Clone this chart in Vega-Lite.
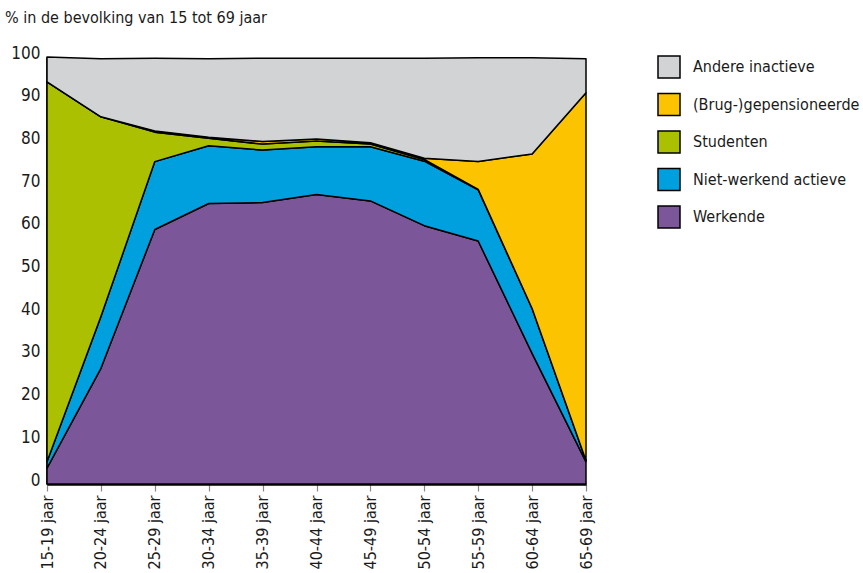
{
  "$schema": "https://vega.github.io/schema/vega-lite/v6.json",
  "width": 539,
  "height": 427,
  "autosize": "none",
  "padding": {"left": 47, "top": 57, "right": 277, "bottom": 89},
  "background": "white",
  "config": {
    "font": "Liberation Sans Narrow, DejaVu Sans Condensed, Roboto Condensed, DejaVu Sans, sans-serif",
    "view": {"stroke": null}
  },
  "title": {
    "text": "% in de bevolking van 15 tot 69 jaar",
    "anchor": "start",
    "frame": "group",
    "orient": "top",
    "dx": -42,
    "offset": 18,
    "fontSize": 16,
    "fontWeight": "normal",
    "color": "#1a1a1a"
  },
  "data": {
    "values": [
      {"age": "15-19 jaar", "group": "Werkende", "rank": 1, "value": 3.7},
      {"age": "15-19 jaar", "group": "Niet-werkend actieve", "rank": 2, "value": 1.5},
      {"age": "15-19 jaar", "group": "Studenten", "rank": 3, "value": 89.0},
      {"age": "15-19 jaar", "group": "(Brug-)gepensioneerde", "rank": 4, "value": 0},
      {"age": "15-19 jaar", "group": "Andere inactieve", "rank": 5, "value": 5.8},
      {"age": "20-24 jaar", "group": "Werkende", "rank": 1, "value": 27.1},
      {"age": "20-24 jaar", "group": "Niet-werkend actieve", "rank": 2, "value": 12.1},
      {"age": "20-24 jaar", "group": "Studenten", "rank": 3, "value": 46.8},
      {"age": "20-24 jaar", "group": "(Brug-)gepensioneerde", "rank": 4, "value": 0},
      {"age": "20-24 jaar", "group": "Andere inactieve", "rank": 5, "value": 13.6},
      {"age": "25-29 jaar", "group": "Werkende", "rank": 1, "value": 59.6},
      {"age": "25-29 jaar", "group": "Niet-werkend actieve", "rank": 2, "value": 15.9},
      {"age": "25-29 jaar", "group": "Studenten", "rank": 3, "value": 6.9},
      {"age": "25-29 jaar", "group": "(Brug-)gepensioneerde", "rank": 4, "value": 0.3},
      {"age": "25-29 jaar", "group": "Andere inactieve", "rank": 5, "value": 17.0},
      {"age": "30-34 jaar", "group": "Werkende", "rank": 1, "value": 65.7},
      {"age": "30-34 jaar", "group": "Niet-werkend actieve", "rank": 2, "value": 13.5},
      {"age": "30-34 jaar", "group": "Studenten", "rank": 3, "value": 1.8},
      {"age": "30-34 jaar", "group": "(Brug-)gepensioneerde", "rank": 4, "value": 0.2},
      {"age": "30-34 jaar", "group": "Andere inactieve", "rank": 5, "value": 18.4},
      {"age": "35-39 jaar", "group": "Werkende", "rank": 1, "value": 65.9},
      {"age": "35-39 jaar", "group": "Niet-werkend actieve", "rank": 2, "value": 12.3},
      {"age": "35-39 jaar", "group": "Studenten", "rank": 3, "value": 1.4},
      {"age": "35-39 jaar", "group": "(Brug-)gepensioneerde", "rank": 4, "value": 0.6},
      {"age": "35-39 jaar", "group": "Andere inactieve", "rank": 5, "value": 19.5},
      {"age": "40-44 jaar", "group": "Werkende", "rank": 1, "value": 67.8},
      {"age": "40-44 jaar", "group": "Niet-werkend actieve", "rank": 2, "value": 11.2},
      {"age": "40-44 jaar", "group": "Studenten", "rank": 3, "value": 1.3},
      {"age": "40-44 jaar", "group": "(Brug-)gepensioneerde", "rank": 4, "value": 0.5},
      {"age": "40-44 jaar", "group": "Andere inactieve", "rank": 5, "value": 18.9},
      {"age": "45-49 jaar", "group": "Werkende", "rank": 1, "value": 66.3},
      {"age": "45-49 jaar", "group": "Niet-werkend actieve", "rank": 2, "value": 12.7},
      {"age": "45-49 jaar", "group": "Studenten", "rank": 3, "value": 0.6},
      {"age": "45-49 jaar", "group": "(Brug-)gepensioneerde", "rank": 4, "value": 0.3},
      {"age": "45-49 jaar", "group": "Andere inactieve", "rank": 5, "value": 19.8},
      {"age": "50-54 jaar", "group": "Werkende", "rank": 1, "value": 60.5},
      {"age": "50-54 jaar", "group": "Niet-werkend actieve", "rank": 2, "value": 15.1},
      {"age": "50-54 jaar", "group": "Studenten", "rank": 3, "value": 0.4},
      {"age": "50-54 jaar", "group": "(Brug-)gepensioneerde", "rank": 4, "value": 0.3},
      {"age": "50-54 jaar", "group": "Andere inactieve", "rank": 5, "value": 23.4},
      {"age": "55-59 jaar", "group": "Werkende", "rank": 1, "value": 56.9},
      {"age": "55-59 jaar", "group": "Niet-werkend actieve", "rank": 2, "value": 12.0},
      {"age": "55-59 jaar", "group": "Studenten", "rank": 3, "value": 0.1},
      {"age": "55-59 jaar", "group": "(Brug-)gepensioneerde", "rank": 4, "value": 6.5},
      {"age": "55-59 jaar", "group": "Andere inactieve", "rank": 5, "value": 24.3},
      {"age": "60-64 jaar", "group": "Werkende", "rank": 1, "value": 30.6},
      {"age": "60-64 jaar", "group": "Niet-werkend actieve", "rank": 2, "value": 10.5},
      {"age": "60-64 jaar", "group": "Studenten", "rank": 3, "value": 0},
      {"age": "60-64 jaar", "group": "(Brug-)gepensioneerde", "rank": 4, "value": 36.2},
      {"age": "60-64 jaar", "group": "Andere inactieve", "rank": 5, "value": 22.5},
      {"age": "65-69 jaar", "group": "Werkende", "rank": 1, "value": 5.2},
      {"age": "65-69 jaar", "group": "Niet-werkend actieve", "rank": 2, "value": 0.3},
      {"age": "65-69 jaar", "group": "Studenten", "rank": 3, "value": 0},
      {"age": "65-69 jaar", "group": "(Brug-)gepensioneerde", "rank": 4, "value": 86.1},
      {"age": "65-69 jaar", "group": "Andere inactieve", "rank": 5, "value": 8.0}
    ]
  },
  "mark": {"type": "area", "stroke": "black", "strokeWidth": 1.5, "strokeJoin": "round", "opacity": 1, "fillOpacity": 1},
  "encoding": {
    "x": {
      "field": "age",
      "type": "ordinal",
      "scale": {"type": "point", "padding": 0},
      "axis": {
        "title": null,
        "labelAngle": -90,
        "labelFontSize": 16,
        "labelColor": "#1a1a1a",
        "labelPadding": 4,
        "tickColor": "#888888",
        "tickSize": 7,
        "tickWidth": 1.2,
        "domainColor": "black",
        "domainWidth": 2.5,
        "grid": false
      }
    },
    "y": {
      "field": "value",
      "type": "quantitative",
      "stack": "zero",
      "scale": {"domain": [0, 100], "nice": false},
      "axis": {
        "title": null,
        "values": [0, 10, 20, 30, 40, 50, 60, 70, 80, 90, 100],
        "ticks": false,
        "labelPadding": 7,
        "labelFontSize": 17,
        "labelColor": "#1a1a1a",
        "labelBaseline": "middle",
        "labelOffset": -4,
        "domainColor": "black",
        "domainWidth": 2.5,
        "grid": false
      }
    },
    "color": {
      "field": "group",
      "type": "nominal",
      "scale": {
        "domain": ["Andere inactieve", "(Brug-)gepensioneerde", "Studenten", "Niet-werkend actieve", "Werkende"],
        "range": ["#d1d3d4", "#fcc300", "#abc000", "#00a0df", "#7b5799"]
      },
      "legend": {
        "title": null,
        "orient": "none",
        "legendX": 610,
        "legendY": -2,
        "symbolType": "square",
        "symbolSize": 484,
        "symbolStrokeColor": "black",
        "symbolStrokeWidth": 1.5,
        "symbolOpacity": 1,
        "labelFontSize": 16,
        "labelColor": "#1a1a1a",
        "labelOffset": 12,
        "rowPadding": 9.5,
        "labelLimit": 250
      }
    },
    "order": {"field": "rank", "type": "quantitative", "sort": "ascending"}
  }
}
